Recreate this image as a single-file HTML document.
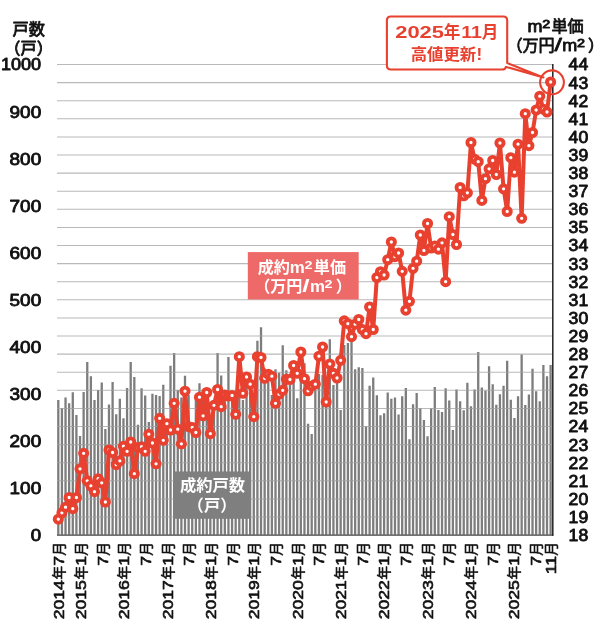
<!DOCTYPE html>
<html lang="ja"><head><meta charset="utf-8"><title>成約m2単価・成約戸数</title>
<style>html,body{margin:0;padding:0;background:#fff}body{width:600px;height:626px;overflow:hidden}svg{display:block;will-change:transform}</style>
</head><body>
<svg width="600" height="626" viewBox="0 0 600 626">
<rect width="600" height="626" fill="#fff"/>
<path d="M57.0 64.50H552.8M57.0 82.60H552.8M57.0 100.70H552.8M57.0 118.80H552.8M57.0 136.90H552.8M57.0 155.00H552.8M57.0 173.10H552.8M57.0 191.20H552.8M57.0 209.30H552.8M57.0 227.40H552.8M57.0 245.50H552.8M57.0 263.60H552.8M57.0 281.70H552.8M57.0 299.80H552.8M57.0 317.90H552.8M57.0 336.00H552.8M57.0 354.10H552.8M57.0 372.20H552.8M57.0 390.30H552.8M57.0 408.40H552.8M57.0 426.50H552.8M57.0 444.60H552.8M57.0 462.70H552.8M57.0 480.80H552.8M57.0 498.90H552.8M57.0 517.00H552.8M57.0 535.10H552.8" stroke="#b9b9b9" stroke-width="1.05" fill="none"/>
<clipPath id="bc"><path d="M57.15 535.1V400.0h2.3V535.1zM60.77 535.1V408.3h2.3V535.1zM64.39 535.1V397.5h2.3V535.1zM68.01 535.1V403.3h2.3V535.1zM71.63 535.1V392.2h2.3V535.1zM75.25 535.1V415.0h2.3V535.1zM78.87 535.1V436.0h2.3V535.1zM82.49 535.1V392.0h2.3V535.1zM86.11 535.1V362.0h2.3V535.1zM89.73 535.1V376.3h2.3V535.1zM93.35 535.1V400.0h2.3V535.1zM96.97 535.1V390.0h2.3V535.1zM100.59 535.1V382.5h2.3V535.1zM104.21 535.1V429.0h2.3V535.1zM107.83 535.1V404.5h2.3V535.1zM111.45 535.1V382.0h2.3V535.1zM115.07 535.1V414.2h2.3V535.1zM118.69 535.1V398.8h2.3V535.1zM122.31 535.1V418.3h2.3V535.1zM125.93 535.1V388.0h2.3V535.1zM129.55 535.1V362.0h2.3V535.1zM133.17 535.1V377.0h2.3V535.1zM136.79 535.1V424.7h2.3V535.1zM140.41 535.1V388.3h2.3V535.1zM144.03 535.1V395.5h2.3V535.1zM147.65 535.1V422.0h2.3V535.1zM151.27 535.1V393.8h2.3V535.1zM154.89 535.1V395.0h2.3V535.1zM158.51 535.1V396.0h2.3V535.1zM162.13 535.1V384.7h2.3V535.1zM165.75 535.1V420.0h2.3V535.1zM169.37 535.1V365.8h2.3V535.1zM172.99 535.1V353.0h2.3V535.1zM176.61 535.1V390.0h2.3V535.1zM180.23 535.1V397.5h2.3V535.1zM183.85 535.1V375.8h2.3V535.1zM187.47 535.1V395.0h2.3V535.1zM191.09 535.1V428.0h2.3V535.1zM194.71 535.1V398.0h2.3V535.1zM198.33 535.1V383.3h2.3V535.1zM201.95 535.1V400.0h2.3V535.1zM205.57 535.1V395.0h2.3V535.1zM209.19 535.1V420.0h2.3V535.1zM212.81 535.1V400.0h2.3V535.1zM216.43 535.1V353.0h2.3V535.1zM220.05 535.1V375.5h2.3V535.1zM223.67 535.1V400.0h2.3V535.1zM227.29 535.1V357.0h2.3V535.1zM230.91 535.1V400.0h2.3V535.1zM234.53 535.1V400.0h2.3V535.1zM238.15 535.1V395.0h2.3V535.1zM241.77 535.1V400.0h2.3V535.1zM245.39 535.1V385.0h2.3V535.1zM249.01 535.1V390.0h2.3V535.1zM252.63 535.1V420.0h2.3V535.1zM256.25 535.1V340.8h2.3V535.1zM259.87 535.1V327.2h2.3V535.1zM263.49 535.1V368.3h2.3V535.1zM267.11 535.1V370.8h2.3V535.1zM270.73 535.1V395.0h2.3V535.1zM274.35 535.1V369.3h2.3V535.1zM277.97 535.1V372.7h2.3V535.1zM281.59 535.1V345.3h2.3V535.1zM285.21 535.1V370.2h2.3V535.1zM288.83 535.1V385.0h2.3V535.1zM292.45 535.1V380.0h2.3V535.1zM296.07 535.1V398.3h2.3V535.1zM299.69 535.1V375.0h2.3V535.1zM303.31 535.1V363.3h2.3V535.1zM306.93 535.1V423.8h2.3V535.1zM310.55 535.1V434.0h2.3V535.1zM314.17 535.1V390.0h2.3V535.1zM317.79 535.1V374.0h2.3V535.1zM321.41 535.1V375.0h2.3V535.1zM325.03 535.1V405.0h2.3V535.1zM328.65 535.1V339.2h2.3V535.1zM332.27 535.1V385.0h2.3V535.1zM335.89 535.1V380.0h2.3V535.1zM339.51 535.1V410.0h2.3V535.1zM343.13 535.1V345.0h2.3V535.1zM346.75 535.1V343.0h2.3V535.1zM350.37 535.1V340.8h2.3V535.1zM353.99 535.1V369.2h2.3V535.1zM357.61 535.1V367.2h2.3V535.1zM361.23 535.1V368.0h2.3V535.1zM364.85 535.1V426.3h2.3V535.1zM368.47 535.1V385.8h2.3V535.1zM372.09 535.1V377.5h2.3V535.1zM375.71 535.1V395.3h2.3V535.1zM379.33 535.1V415.3h2.3V535.1zM382.95 535.1V413.3h2.3V535.1zM386.57 535.1V392.5h2.3V535.1zM390.19 535.1V398.7h2.3V535.1zM393.81 535.1V397.5h2.3V535.1zM397.43 535.1V414.5h2.3V535.1zM401.05 535.1V396.2h2.3V535.1zM404.67 535.1V388.0h2.3V535.1zM408.29 535.1V439.2h2.3V535.1zM411.91 535.1V404.2h2.3V535.1zM415.53 535.1V393.0h2.3V535.1zM419.15 535.1V408.3h2.3V535.1zM422.77 535.1V420.0h2.3V535.1zM426.39 535.1V436.3h2.3V535.1zM430.01 535.1V408.3h2.3V535.1zM433.63 535.1V387.0h2.3V535.1zM437.25 535.1V410.0h2.3V535.1zM440.87 535.1V412.0h2.3V535.1zM444.49 535.1V388.3h2.3V535.1zM448.11 535.1V400.5h2.3V535.1zM451.73 535.1V430.0h2.3V535.1zM455.35 535.1V389.5h2.3V535.1zM458.97 535.1V401.3h2.3V535.1zM462.59 535.1V410.3h2.3V535.1zM466.21 535.1V382.8h2.3V535.1zM469.83 535.1V406.3h2.3V535.1zM473.45 535.1V389.5h2.3V535.1zM477.07 535.1V352.0h2.3V535.1zM480.69 535.1V387.5h2.3V535.1zM484.31 535.1V390.8h2.3V535.1zM487.93 535.1V366.3h2.3V535.1zM491.55 535.1V384.2h2.3V535.1zM495.17 535.1V404.7h2.3V535.1zM498.79 535.1V394.2h2.3V535.1zM502.41 535.1V385.8h2.3V535.1zM506.03 535.1V360.8h2.3V535.1zM509.65 535.1V399.7h2.3V535.1zM513.27 535.1V418.0h2.3V535.1zM516.89 535.1V396.2h2.3V535.1zM520.51 535.1V354.5h2.3V535.1zM524.13 535.1V405.0h2.3V535.1zM527.75 535.1V394.5h2.3V535.1zM531.37 535.1V368.7h2.3V535.1zM534.99 535.1V391.3h2.3V535.1zM538.61 535.1V401.3h2.3V535.1zM542.23 535.1V365.0h2.3V535.1zM545.85 535.1V376.2h2.3V535.1zM549.47 535.1V365.0h2.3V535.1z"/></clipPath>
<path d="M57.15 535.1V400.0h2.3V535.1zM60.77 535.1V408.3h2.3V535.1zM64.39 535.1V397.5h2.3V535.1zM68.01 535.1V403.3h2.3V535.1zM71.63 535.1V392.2h2.3V535.1zM75.25 535.1V415.0h2.3V535.1zM78.87 535.1V436.0h2.3V535.1zM82.49 535.1V392.0h2.3V535.1zM86.11 535.1V362.0h2.3V535.1zM89.73 535.1V376.3h2.3V535.1zM93.35 535.1V400.0h2.3V535.1zM96.97 535.1V390.0h2.3V535.1zM100.59 535.1V382.5h2.3V535.1zM104.21 535.1V429.0h2.3V535.1zM107.83 535.1V404.5h2.3V535.1zM111.45 535.1V382.0h2.3V535.1zM115.07 535.1V414.2h2.3V535.1zM118.69 535.1V398.8h2.3V535.1zM122.31 535.1V418.3h2.3V535.1zM125.93 535.1V388.0h2.3V535.1zM129.55 535.1V362.0h2.3V535.1zM133.17 535.1V377.0h2.3V535.1zM136.79 535.1V424.7h2.3V535.1zM140.41 535.1V388.3h2.3V535.1zM144.03 535.1V395.5h2.3V535.1zM147.65 535.1V422.0h2.3V535.1zM151.27 535.1V393.8h2.3V535.1zM154.89 535.1V395.0h2.3V535.1zM158.51 535.1V396.0h2.3V535.1zM162.13 535.1V384.7h2.3V535.1zM165.75 535.1V420.0h2.3V535.1zM169.37 535.1V365.8h2.3V535.1zM172.99 535.1V353.0h2.3V535.1zM176.61 535.1V390.0h2.3V535.1zM180.23 535.1V397.5h2.3V535.1zM183.85 535.1V375.8h2.3V535.1zM187.47 535.1V395.0h2.3V535.1zM191.09 535.1V428.0h2.3V535.1zM194.71 535.1V398.0h2.3V535.1zM198.33 535.1V383.3h2.3V535.1zM201.95 535.1V400.0h2.3V535.1zM205.57 535.1V395.0h2.3V535.1zM209.19 535.1V420.0h2.3V535.1zM212.81 535.1V400.0h2.3V535.1zM216.43 535.1V353.0h2.3V535.1zM220.05 535.1V375.5h2.3V535.1zM223.67 535.1V400.0h2.3V535.1zM227.29 535.1V357.0h2.3V535.1zM230.91 535.1V400.0h2.3V535.1zM234.53 535.1V400.0h2.3V535.1zM238.15 535.1V395.0h2.3V535.1zM241.77 535.1V400.0h2.3V535.1zM245.39 535.1V385.0h2.3V535.1zM249.01 535.1V390.0h2.3V535.1zM252.63 535.1V420.0h2.3V535.1zM256.25 535.1V340.8h2.3V535.1zM259.87 535.1V327.2h2.3V535.1zM263.49 535.1V368.3h2.3V535.1zM267.11 535.1V370.8h2.3V535.1zM270.73 535.1V395.0h2.3V535.1zM274.35 535.1V369.3h2.3V535.1zM277.97 535.1V372.7h2.3V535.1zM281.59 535.1V345.3h2.3V535.1zM285.21 535.1V370.2h2.3V535.1zM288.83 535.1V385.0h2.3V535.1zM292.45 535.1V380.0h2.3V535.1zM296.07 535.1V398.3h2.3V535.1zM299.69 535.1V375.0h2.3V535.1zM303.31 535.1V363.3h2.3V535.1zM306.93 535.1V423.8h2.3V535.1zM310.55 535.1V434.0h2.3V535.1zM314.17 535.1V390.0h2.3V535.1zM317.79 535.1V374.0h2.3V535.1zM321.41 535.1V375.0h2.3V535.1zM325.03 535.1V405.0h2.3V535.1zM328.65 535.1V339.2h2.3V535.1zM332.27 535.1V385.0h2.3V535.1zM335.89 535.1V380.0h2.3V535.1zM339.51 535.1V410.0h2.3V535.1zM343.13 535.1V345.0h2.3V535.1zM346.75 535.1V343.0h2.3V535.1zM350.37 535.1V340.8h2.3V535.1zM353.99 535.1V369.2h2.3V535.1zM357.61 535.1V367.2h2.3V535.1zM361.23 535.1V368.0h2.3V535.1zM364.85 535.1V426.3h2.3V535.1zM368.47 535.1V385.8h2.3V535.1zM372.09 535.1V377.5h2.3V535.1zM375.71 535.1V395.3h2.3V535.1zM379.33 535.1V415.3h2.3V535.1zM382.95 535.1V413.3h2.3V535.1zM386.57 535.1V392.5h2.3V535.1zM390.19 535.1V398.7h2.3V535.1zM393.81 535.1V397.5h2.3V535.1zM397.43 535.1V414.5h2.3V535.1zM401.05 535.1V396.2h2.3V535.1zM404.67 535.1V388.0h2.3V535.1zM408.29 535.1V439.2h2.3V535.1zM411.91 535.1V404.2h2.3V535.1zM415.53 535.1V393.0h2.3V535.1zM419.15 535.1V408.3h2.3V535.1zM422.77 535.1V420.0h2.3V535.1zM426.39 535.1V436.3h2.3V535.1zM430.01 535.1V408.3h2.3V535.1zM433.63 535.1V387.0h2.3V535.1zM437.25 535.1V410.0h2.3V535.1zM440.87 535.1V412.0h2.3V535.1zM444.49 535.1V388.3h2.3V535.1zM448.11 535.1V400.5h2.3V535.1zM451.73 535.1V430.0h2.3V535.1zM455.35 535.1V389.5h2.3V535.1zM458.97 535.1V401.3h2.3V535.1zM462.59 535.1V410.3h2.3V535.1zM466.21 535.1V382.8h2.3V535.1zM469.83 535.1V406.3h2.3V535.1zM473.45 535.1V389.5h2.3V535.1zM477.07 535.1V352.0h2.3V535.1zM480.69 535.1V387.5h2.3V535.1zM484.31 535.1V390.8h2.3V535.1zM487.93 535.1V366.3h2.3V535.1zM491.55 535.1V384.2h2.3V535.1zM495.17 535.1V404.7h2.3V535.1zM498.79 535.1V394.2h2.3V535.1zM502.41 535.1V385.8h2.3V535.1zM506.03 535.1V360.8h2.3V535.1zM509.65 535.1V399.7h2.3V535.1zM513.27 535.1V418.0h2.3V535.1zM516.89 535.1V396.2h2.3V535.1zM520.51 535.1V354.5h2.3V535.1zM524.13 535.1V405.0h2.3V535.1zM527.75 535.1V394.5h2.3V535.1zM531.37 535.1V368.7h2.3V535.1zM534.99 535.1V391.3h2.3V535.1zM538.61 535.1V401.3h2.3V535.1zM542.23 535.1V365.0h2.3V535.1zM545.85 535.1V376.2h2.3V535.1zM549.47 535.1V365.0h2.3V535.1z" fill="#7d7d7d"/>
<path d="M57.0 64.50H552.8M57.0 82.60H552.8M57.0 100.70H552.8M57.0 118.80H552.8M57.0 136.90H552.8M57.0 155.00H552.8M57.0 173.10H552.8M57.0 191.20H552.8M57.0 209.30H552.8M57.0 227.40H552.8M57.0 245.50H552.8M57.0 263.60H552.8M57.0 281.70H552.8M57.0 299.80H552.8M57.0 317.90H552.8M57.0 336.00H552.8M57.0 354.10H552.8M57.0 372.20H552.8M57.0 390.30H552.8M57.0 408.40H552.8M57.0 426.50H552.8M57.0 444.60H552.8M57.0 462.70H552.8M57.0 480.80H552.8M57.0 498.90H552.8M57.0 517.00H552.8M57.0 535.10H552.8" stroke="#fff" stroke-opacity="0.22" stroke-width="1.05" fill="none" clip-path="url(#bc)"/>
<path d="M57.0 535.1H553.4" stroke="#555" stroke-width="1.2"/>
<path d="M552.8 64.0V535.7" stroke="#222" stroke-width="1.5"/>
<rect x="173.7" y="471.5" width="77" height="47.3" fill="#7f7f7f"/>
<g font-family="'Liberation Sans','Noto Sans CJK JP',sans-serif" font-weight="bold" fill="#fff">
<text x="212.5" y="491" font-size="16.3" text-anchor="middle">成約戸数</text>
<text y="510.6" font-size="16.3"><tspan x="187.6">（</tspan><tspan x="203.9">戸</tspan><tspan x="220.2">）</tspan></text>
</g>
<rect x="247.8" y="252.1" width="110.9" height="47.4" fill="#ee6a68"/>
<g font-family="'Liberation Sans','Noto Sans CJK JP',sans-serif" font-weight="bold" fill="#fff">
<text y="273.0"><tspan x="257.7" font-size="16.1">成約</tspan><tspan x="289.8" font-size="16.4" textLength="15.0" lengthAdjust="spacingAndGlyphs">m</tspan><tspan x="304.6" dy="-4.1" font-size="11" textLength="8.0" lengthAdjust="spacingAndGlyphs">2</tspan><tspan x="313.8" dy="4.1" font-size="16.1">単価</tspan></text>
<text y="292.3"><tspan x="254.3" font-size="16.1">（</tspan><tspan x="270.2" font-size="16.1">万円</tspan><tspan x="302.3" font-size="19.0" textLength="7.4" lengthAdjust="spacingAndGlyphs">/</tspan><tspan x="310.0" font-size="16.4" textLength="15.0" lengthAdjust="spacingAndGlyphs">m</tspan><tspan x="324.6" dy="-4.1" font-size="11" textLength="8.0" lengthAdjust="spacingAndGlyphs">2</tspan><tspan x="335.7" dy="4.1" font-size="16.1">）</tspan></text>
</g>
<polyline points="58.30,519.2 61.92,512.8 65.54,507.2 69.16,497.5 72.78,508.7 76.40,497.5 80.02,468.8 83.64,453.3 87.26,480.8 90.88,485.8 94.50,491.7 98.12,478.7 101.74,482.8 105.36,502.0 108.98,450.0 112.60,452.5 116.22,464.7 119.84,460.8 123.46,446.2 127.08,451.3 130.70,442.0 134.32,473.7 137.94,447.5 141.56,446.7 145.18,451.3 148.80,434.2 152.42,443.0 156.04,463.8 159.66,418.3 163.28,440.3 166.90,423.7 170.52,430.0 174.14,403.3 177.76,429.2 181.38,443.8 185.00,391.2 188.62,426.7 192.24,427.5 195.86,432.5 199.48,397.2 203.10,415.8 206.72,392.5 210.34,433.7 213.96,405.3 217.58,389.5 221.20,406.7 224.82,395.0 228.44,396.0 232.06,395.5 235.68,414.3 239.30,356.7 242.92,393.3 246.54,377.0 250.16,384.2 253.78,416.7 257.40,356.7 261.02,357.5 264.64,378.3 268.26,374.2 271.88,376.2 275.50,403.3 279.12,394.2 282.74,390.3 286.36,379.2 289.98,379.5 293.60,365.5 297.22,373.3 300.84,352.0 304.46,378.7 308.08,390.8 311.70,386.0 315.32,384.2 318.94,356.2 322.56,347.0 326.18,402.0 329.80,364.0 333.42,373.3 337.04,378.0 340.66,360.3 344.28,320.8 347.90,323.7 351.52,336.7 355.14,324.2 358.76,319.5 362.38,329.5 366.00,333.7 369.62,307.0 373.24,329.5 376.86,277.5 380.48,271.7 384.10,275.0 387.72,259.7 391.34,242.0 394.96,256.7 398.58,253.0 402.20,271.3 405.82,310.2 409.44,301.3 413.06,268.3 416.68,261.2 420.30,235.0 423.92,250.5 427.54,223.5 431.16,248.0 434.78,246.0 438.40,249.2 442.02,242.8 445.64,281.7 449.26,216.7 452.88,234.5 456.50,244.5 460.12,187.5 463.74,195.8 467.36,192.8 470.98,142.5 474.60,159.2 478.22,161.7 481.84,200.4 485.46,178.7 489.08,168.8 492.70,160.5 496.32,174.5 499.94,143.0 503.56,188.8 507.18,211.5 510.80,157.7 514.42,172.2 518.04,144.2 521.66,218.3 525.28,113.7 528.90,145.7 532.52,132.5 536.14,110.0 539.76,96.2 543.38,109.2 547.00,112.0 550.62,82.0" fill="none" stroke="#e8412f" stroke-width="4.0" stroke-linejoin="round" stroke-linecap="round"/>
<g fill="#fff" stroke="#e8412f" stroke-width="3.9"><circle cx="58.30" cy="519.2" r="3.6"/><circle cx="61.92" cy="512.8" r="3.6"/><circle cx="65.54" cy="507.2" r="3.6"/><circle cx="69.16" cy="497.5" r="3.6"/><circle cx="72.78" cy="508.7" r="3.6"/><circle cx="76.40" cy="497.5" r="3.6"/><circle cx="80.02" cy="468.8" r="3.6"/><circle cx="83.64" cy="453.3" r="3.6"/><circle cx="87.26" cy="480.8" r="3.6"/><circle cx="90.88" cy="485.8" r="3.6"/><circle cx="94.50" cy="491.7" r="3.6"/><circle cx="98.12" cy="478.7" r="3.6"/><circle cx="101.74" cy="482.8" r="3.6"/><circle cx="105.36" cy="502.0" r="3.6"/><circle cx="108.98" cy="450.0" r="3.6"/><circle cx="112.60" cy="452.5" r="3.6"/><circle cx="116.22" cy="464.7" r="3.6"/><circle cx="119.84" cy="460.8" r="3.6"/><circle cx="123.46" cy="446.2" r="3.6"/><circle cx="127.08" cy="451.3" r="3.6"/><circle cx="130.70" cy="442.0" r="3.6"/><circle cx="134.32" cy="473.7" r="3.6"/><circle cx="137.94" cy="447.5" r="3.6"/><circle cx="141.56" cy="446.7" r="3.6"/><circle cx="145.18" cy="451.3" r="3.6"/><circle cx="148.80" cy="434.2" r="3.6"/><circle cx="152.42" cy="443.0" r="3.6"/><circle cx="156.04" cy="463.8" r="3.6"/><circle cx="159.66" cy="418.3" r="3.6"/><circle cx="163.28" cy="440.3" r="3.6"/><circle cx="166.90" cy="423.7" r="3.6"/><circle cx="170.52" cy="430.0" r="3.6"/><circle cx="174.14" cy="403.3" r="3.6"/><circle cx="177.76" cy="429.2" r="3.6"/><circle cx="181.38" cy="443.8" r="3.6"/><circle cx="185.00" cy="391.2" r="3.6"/><circle cx="188.62" cy="426.7" r="3.6"/><circle cx="192.24" cy="427.5" r="3.6"/><circle cx="195.86" cy="432.5" r="3.6"/><circle cx="199.48" cy="397.2" r="3.6"/><circle cx="203.10" cy="415.8" r="3.6"/><circle cx="206.72" cy="392.5" r="3.6"/><circle cx="210.34" cy="433.7" r="3.6"/><circle cx="213.96" cy="405.3" r="3.6"/><circle cx="217.58" cy="389.5" r="3.6"/><circle cx="221.20" cy="406.7" r="3.6"/><circle cx="224.82" cy="395.0" r="3.6"/><circle cx="228.44" cy="396.0" r="3.6"/><circle cx="232.06" cy="395.5" r="3.6"/><circle cx="235.68" cy="414.3" r="3.6"/><circle cx="239.30" cy="356.7" r="3.6"/><circle cx="242.92" cy="393.3" r="3.6"/><circle cx="246.54" cy="377.0" r="3.6"/><circle cx="250.16" cy="384.2" r="3.6"/><circle cx="253.78" cy="416.7" r="3.6"/><circle cx="257.40" cy="356.7" r="3.6"/><circle cx="261.02" cy="357.5" r="3.6"/><circle cx="264.64" cy="378.3" r="3.6"/><circle cx="268.26" cy="374.2" r="3.6"/><circle cx="271.88" cy="376.2" r="3.6"/><circle cx="275.50" cy="403.3" r="3.6"/><circle cx="279.12" cy="394.2" r="3.6"/><circle cx="282.74" cy="390.3" r="3.6"/><circle cx="286.36" cy="379.2" r="3.6"/><circle cx="289.98" cy="379.5" r="3.6"/><circle cx="293.60" cy="365.5" r="3.6"/><circle cx="297.22" cy="373.3" r="3.6"/><circle cx="300.84" cy="352.0" r="3.6"/><circle cx="304.46" cy="378.7" r="3.6"/><circle cx="308.08" cy="390.8" r="3.6"/><circle cx="311.70" cy="386.0" r="3.6"/><circle cx="315.32" cy="384.2" r="3.6"/><circle cx="318.94" cy="356.2" r="3.6"/><circle cx="322.56" cy="347.0" r="3.6"/><circle cx="326.18" cy="402.0" r="3.6"/><circle cx="329.80" cy="364.0" r="3.6"/><circle cx="333.42" cy="373.3" r="3.6"/><circle cx="337.04" cy="378.0" r="3.6"/><circle cx="340.66" cy="360.3" r="3.6"/><circle cx="344.28" cy="320.8" r="3.6"/><circle cx="347.90" cy="323.7" r="3.6"/><circle cx="351.52" cy="336.7" r="3.6"/><circle cx="355.14" cy="324.2" r="3.6"/><circle cx="358.76" cy="319.5" r="3.6"/><circle cx="362.38" cy="329.5" r="3.6"/><circle cx="366.00" cy="333.7" r="3.6"/><circle cx="369.62" cy="307.0" r="3.6"/><circle cx="373.24" cy="329.5" r="3.6"/><circle cx="376.86" cy="277.5" r="3.6"/><circle cx="380.48" cy="271.7" r="3.6"/><circle cx="384.10" cy="275.0" r="3.6"/><circle cx="387.72" cy="259.7" r="3.6"/><circle cx="391.34" cy="242.0" r="3.6"/><circle cx="394.96" cy="256.7" r="3.6"/><circle cx="398.58" cy="253.0" r="3.6"/><circle cx="402.20" cy="271.3" r="3.6"/><circle cx="405.82" cy="310.2" r="3.6"/><circle cx="409.44" cy="301.3" r="3.6"/><circle cx="413.06" cy="268.3" r="3.6"/><circle cx="416.68" cy="261.2" r="3.6"/><circle cx="420.30" cy="235.0" r="3.6"/><circle cx="423.92" cy="250.5" r="3.6"/><circle cx="427.54" cy="223.5" r="3.6"/><circle cx="431.16" cy="248.0" r="3.6"/><circle cx="434.78" cy="246.0" r="3.6"/><circle cx="438.40" cy="249.2" r="3.6"/><circle cx="442.02" cy="242.8" r="3.6"/><circle cx="445.64" cy="281.7" r="3.6"/><circle cx="449.26" cy="216.7" r="3.6"/><circle cx="452.88" cy="234.5" r="3.6"/><circle cx="456.50" cy="244.5" r="3.6"/><circle cx="460.12" cy="187.5" r="3.6"/><circle cx="463.74" cy="195.8" r="3.6"/><circle cx="467.36" cy="192.8" r="3.6"/><circle cx="470.98" cy="142.5" r="3.6"/><circle cx="474.60" cy="159.2" r="3.6"/><circle cx="478.22" cy="161.7" r="3.6"/><circle cx="481.84" cy="200.4" r="3.6"/><circle cx="485.46" cy="178.7" r="3.6"/><circle cx="489.08" cy="168.8" r="3.6"/><circle cx="492.70" cy="160.5" r="3.6"/><circle cx="496.32" cy="174.5" r="3.6"/><circle cx="499.94" cy="143.0" r="3.6"/><circle cx="503.56" cy="188.8" r="3.6"/><circle cx="507.18" cy="211.5" r="3.6"/><circle cx="510.80" cy="157.7" r="3.6"/><circle cx="514.42" cy="172.2" r="3.6"/><circle cx="518.04" cy="144.2" r="3.6"/><circle cx="521.66" cy="218.3" r="3.6"/><circle cx="525.28" cy="113.7" r="3.6"/><circle cx="528.90" cy="145.7" r="3.6"/><circle cx="532.52" cy="132.5" r="3.6"/><circle cx="536.14" cy="110.0" r="3.6"/><circle cx="539.76" cy="96.2" r="3.6"/><circle cx="543.38" cy="109.2" r="3.6"/><circle cx="547.00" cy="112.0" r="3.6"/><circle cx="550.62" cy="82.0" r="3.6"/></g>
<circle cx="552" cy="82.3" r="11.9" fill="none" stroke="#e8412f" stroke-width="2.1"/>
<path d="M390.9 16.5H503.2Q507.2 16.5 507.2 20.5V63L543.5 77.4L506 66.9Q505.2 69.5 502.4 69.5H390.9Q386.9 69.5 386.9 65.5V20.5Q386.9 16.5 390.9 16.5Z" fill="#fff" stroke="#e8412f" stroke-width="2.1" stroke-linejoin="round"/>
<g font-family="'Liberation Sans','Noto Sans CJK JP',sans-serif" font-weight="bold" fill="#e8412f">
<text y="38.1"><tspan x="395.2" font-size="17" textLength="48.8" lengthAdjust="spacingAndGlyphs">2025</tspan><tspan x="443.7" font-size="16.6">年</tspan><tspan x="461.2" font-size="17" textLength="20.6" lengthAdjust="spacingAndGlyphs">11</tspan><tspan x="481.8" font-size="16.6">月</tspan></text>
<text y="60.4" font-size="16.4"><tspan x="410.7">高値更新</tspan><tspan x="476.6" font-size="17">!</tspan></text>
</g>
<g font-family="'Liberation Sans','Noto Sans CJK JP',sans-serif" font-weight="normal" fill="#111" stroke="#111" stroke-width="0.8" stroke-linejoin="round">
<text x="28.7" y="35.3" font-size="16.2" text-anchor="middle">戸数</text>
<text y="54.3" font-size="16.2"><tspan x="4.3">（</tspan><tspan x="20.5">戸</tspan><tspan x="36.7">）</tspan></text>
<text y="32.3"><tspan x="527.4" font-size="16.4" textLength="15.0" lengthAdjust="spacingAndGlyphs">m</tspan><tspan x="542.2" dy="-4.1" font-size="11" textLength="8.0" lengthAdjust="spacingAndGlyphs">2</tspan><tspan x="551.4" dy="4.1" font-size="16.1">単価</tspan></text>
<text y="50.6"><tspan x="506.6" font-size="16.1">（</tspan><tspan x="522.5" font-size="16.1">万円</tspan><tspan x="554.6" font-size="19.0" textLength="7.4" lengthAdjust="spacingAndGlyphs">/</tspan><tspan x="562.3" font-size="16.4" textLength="15.0" lengthAdjust="spacingAndGlyphs">m</tspan><tspan x="576.9" dy="-4.1" font-size="11" textLength="8.0" lengthAdjust="spacingAndGlyphs">2</tspan><tspan x="588.0" dy="4.1" font-size="16.1">）</tspan></text>
<text x="41.2" y="70.4" font-size="15.6" text-anchor="end" textLength="40.2" lengthAdjust="spacingAndGlyphs">1000</text>
<text x="41.2" y="117.5" font-size="15.6" text-anchor="end" textLength="31.6" lengthAdjust="spacingAndGlyphs">900</text>
<text x="41.2" y="164.5" font-size="15.6" text-anchor="end" textLength="31.6" lengthAdjust="spacingAndGlyphs">800</text>
<text x="41.2" y="211.6" font-size="15.6" text-anchor="end" textLength="31.6" lengthAdjust="spacingAndGlyphs">700</text>
<text x="41.2" y="258.6" font-size="15.6" text-anchor="end" textLength="31.6" lengthAdjust="spacingAndGlyphs">600</text>
<text x="41.2" y="305.7" font-size="15.6" text-anchor="end" textLength="31.6" lengthAdjust="spacingAndGlyphs">500</text>
<text x="41.2" y="352.8" font-size="15.6" text-anchor="end" textLength="31.6" lengthAdjust="spacingAndGlyphs">400</text>
<text x="41.2" y="399.8" font-size="15.6" text-anchor="end" textLength="31.6" lengthAdjust="spacingAndGlyphs">300</text>
<text x="41.2" y="446.9" font-size="15.6" text-anchor="end" textLength="31.6" lengthAdjust="spacingAndGlyphs">200</text>
<text x="41.2" y="493.9" font-size="15.6" text-anchor="end" textLength="31.6" lengthAdjust="spacingAndGlyphs">100</text>
<text x="41.2" y="541.0" font-size="15.6" text-anchor="end" textLength="10.4" lengthAdjust="spacingAndGlyphs">0</text>
<text x="568.6" y="70.4" font-size="15.6" textLength="19.6" lengthAdjust="spacingAndGlyphs">44</text>
<text x="568.6" y="88.5" font-size="15.6" textLength="19.6" lengthAdjust="spacingAndGlyphs">43</text>
<text x="568.6" y="106.6" font-size="15.6" textLength="19.6" lengthAdjust="spacingAndGlyphs">42</text>
<text x="568.6" y="124.7" font-size="15.6" textLength="19.6" lengthAdjust="spacingAndGlyphs">41</text>
<text x="568.6" y="142.8" font-size="15.6" textLength="19.6" lengthAdjust="spacingAndGlyphs">40</text>
<text x="568.6" y="160.9" font-size="15.6" textLength="19.6" lengthAdjust="spacingAndGlyphs">39</text>
<text x="568.6" y="179.0" font-size="15.6" textLength="19.6" lengthAdjust="spacingAndGlyphs">38</text>
<text x="568.6" y="197.1" font-size="15.6" textLength="19.6" lengthAdjust="spacingAndGlyphs">37</text>
<text x="568.6" y="215.2" font-size="15.6" textLength="19.6" lengthAdjust="spacingAndGlyphs">36</text>
<text x="568.6" y="233.3" font-size="15.6" textLength="19.6" lengthAdjust="spacingAndGlyphs">35</text>
<text x="568.6" y="251.4" font-size="15.6" textLength="19.6" lengthAdjust="spacingAndGlyphs">34</text>
<text x="568.6" y="269.5" font-size="15.6" textLength="19.6" lengthAdjust="spacingAndGlyphs">33</text>
<text x="568.6" y="287.6" font-size="15.6" textLength="19.6" lengthAdjust="spacingAndGlyphs">32</text>
<text x="568.6" y="305.7" font-size="15.6" textLength="19.6" lengthAdjust="spacingAndGlyphs">31</text>
<text x="568.6" y="323.8" font-size="15.6" textLength="19.6" lengthAdjust="spacingAndGlyphs">30</text>
<text x="568.6" y="341.9" font-size="15.6" textLength="19.6" lengthAdjust="spacingAndGlyphs">29</text>
<text x="568.6" y="360.0" font-size="15.6" textLength="19.6" lengthAdjust="spacingAndGlyphs">28</text>
<text x="568.6" y="378.1" font-size="15.6" textLength="19.6" lengthAdjust="spacingAndGlyphs">27</text>
<text x="568.6" y="396.2" font-size="15.6" textLength="19.6" lengthAdjust="spacingAndGlyphs">26</text>
<text x="568.6" y="414.3" font-size="15.6" textLength="19.6" lengthAdjust="spacingAndGlyphs">25</text>
<text x="568.6" y="432.4" font-size="15.6" textLength="19.6" lengthAdjust="spacingAndGlyphs">24</text>
<text x="568.6" y="450.5" font-size="15.6" textLength="19.6" lengthAdjust="spacingAndGlyphs">23</text>
<text x="568.6" y="468.6" font-size="15.6" textLength="19.6" lengthAdjust="spacingAndGlyphs">22</text>
<text x="568.6" y="486.7" font-size="15.6" textLength="19.6" lengthAdjust="spacingAndGlyphs">21</text>
<text x="568.6" y="504.8" font-size="15.6" textLength="19.6" lengthAdjust="spacingAndGlyphs">20</text>
<text x="568.6" y="522.9" font-size="15.6" textLength="19.6" lengthAdjust="spacingAndGlyphs">19</text>
<text x="568.6" y="541.0" font-size="15.6" textLength="19.6" lengthAdjust="spacingAndGlyphs">18</text>
</g>
<g font-family="'Liberation Sans','Noto Sans CJK JP',sans-serif" font-weight="normal" fill="#111" stroke="#111" stroke-width="0.62" stroke-linejoin="round">
<text transform="translate(64.30 542.2) rotate(-90)"><tspan x="-77.1" font-size="15.2" textLength="39.2" lengthAdjust="spacingAndGlyphs">2014</tspan><tspan x="-37.3" font-size="13.5">年</tspan><tspan x="-23.5" font-size="15.2" textLength="9.8" lengthAdjust="spacingAndGlyphs">7</tspan><tspan x="-13.5" font-size="13.5">月</tspan></text>
<text transform="translate(85.97 542.2) rotate(-90)"><tspan x="-77.1" font-size="15.2" textLength="39.2" lengthAdjust="spacingAndGlyphs">2015</tspan><tspan x="-37.3" font-size="13.5">年</tspan><tspan x="-23.5" font-size="15.2" textLength="9.8" lengthAdjust="spacingAndGlyphs">1</tspan><tspan x="-13.5" font-size="13.5">月</tspan></text>
<text transform="translate(107.64 542.2) rotate(-90)"><tspan x="-23.5" font-size="15.2" textLength="9.8" lengthAdjust="spacingAndGlyphs">7</tspan><tspan x="-13.5" font-size="13.5">月</tspan></text>
<text transform="translate(129.32 542.2) rotate(-90)"><tspan x="-77.1" font-size="15.2" textLength="39.2" lengthAdjust="spacingAndGlyphs">2016</tspan><tspan x="-37.3" font-size="13.5">年</tspan><tspan x="-23.5" font-size="15.2" textLength="9.8" lengthAdjust="spacingAndGlyphs">1</tspan><tspan x="-13.5" font-size="13.5">月</tspan></text>
<text transform="translate(150.99 542.2) rotate(-90)"><tspan x="-23.5" font-size="15.2" textLength="9.8" lengthAdjust="spacingAndGlyphs">7</tspan><tspan x="-13.5" font-size="13.5">月</tspan></text>
<text transform="translate(172.66 542.2) rotate(-90)"><tspan x="-77.1" font-size="15.2" textLength="39.2" lengthAdjust="spacingAndGlyphs">2017</tspan><tspan x="-37.3" font-size="13.5">年</tspan><tspan x="-23.5" font-size="15.2" textLength="9.8" lengthAdjust="spacingAndGlyphs">1</tspan><tspan x="-13.5" font-size="13.5">月</tspan></text>
<text transform="translate(194.33 542.2) rotate(-90)"><tspan x="-23.5" font-size="15.2" textLength="9.8" lengthAdjust="spacingAndGlyphs">7</tspan><tspan x="-13.5" font-size="13.5">月</tspan></text>
<text transform="translate(216.00 542.2) rotate(-90)"><tspan x="-77.1" font-size="15.2" textLength="39.2" lengthAdjust="spacingAndGlyphs">2018</tspan><tspan x="-37.3" font-size="13.5">年</tspan><tspan x="-23.5" font-size="15.2" textLength="9.8" lengthAdjust="spacingAndGlyphs">1</tspan><tspan x="-13.5" font-size="13.5">月</tspan></text>
<text transform="translate(237.68 542.2) rotate(-90)"><tspan x="-23.5" font-size="15.2" textLength="9.8" lengthAdjust="spacingAndGlyphs">7</tspan><tspan x="-13.5" font-size="13.5">月</tspan></text>
<text transform="translate(259.35 542.2) rotate(-90)"><tspan x="-77.1" font-size="15.2" textLength="39.2" lengthAdjust="spacingAndGlyphs">2019</tspan><tspan x="-37.3" font-size="13.5">年</tspan><tspan x="-23.5" font-size="15.2" textLength="9.8" lengthAdjust="spacingAndGlyphs">1</tspan><tspan x="-13.5" font-size="13.5">月</tspan></text>
<text transform="translate(281.02 542.2) rotate(-90)"><tspan x="-23.5" font-size="15.2" textLength="9.8" lengthAdjust="spacingAndGlyphs">7</tspan><tspan x="-13.5" font-size="13.5">月</tspan></text>
<text transform="translate(302.69 542.2) rotate(-90)"><tspan x="-77.1" font-size="15.2" textLength="39.2" lengthAdjust="spacingAndGlyphs">2020</tspan><tspan x="-37.3" font-size="13.5">年</tspan><tspan x="-23.5" font-size="15.2" textLength="9.8" lengthAdjust="spacingAndGlyphs">1</tspan><tspan x="-13.5" font-size="13.5">月</tspan></text>
<text transform="translate(324.36 542.2) rotate(-90)"><tspan x="-23.5" font-size="15.2" textLength="9.8" lengthAdjust="spacingAndGlyphs">7</tspan><tspan x="-13.5" font-size="13.5">月</tspan></text>
<text transform="translate(346.04 542.2) rotate(-90)"><tspan x="-77.1" font-size="15.2" textLength="39.2" lengthAdjust="spacingAndGlyphs">2021</tspan><tspan x="-37.3" font-size="13.5">年</tspan><tspan x="-23.5" font-size="15.2" textLength="9.8" lengthAdjust="spacingAndGlyphs">1</tspan><tspan x="-13.5" font-size="13.5">月</tspan></text>
<text transform="translate(367.71 542.2) rotate(-90)"><tspan x="-23.5" font-size="15.2" textLength="9.8" lengthAdjust="spacingAndGlyphs">7</tspan><tspan x="-13.5" font-size="13.5">月</tspan></text>
<text transform="translate(389.38 542.2) rotate(-90)"><tspan x="-77.1" font-size="15.2" textLength="39.2" lengthAdjust="spacingAndGlyphs">2022</tspan><tspan x="-37.3" font-size="13.5">年</tspan><tspan x="-23.5" font-size="15.2" textLength="9.8" lengthAdjust="spacingAndGlyphs">1</tspan><tspan x="-13.5" font-size="13.5">月</tspan></text>
<text transform="translate(411.05 542.2) rotate(-90)"><tspan x="-23.5" font-size="15.2" textLength="9.8" lengthAdjust="spacingAndGlyphs">7</tspan><tspan x="-13.5" font-size="13.5">月</tspan></text>
<text transform="translate(432.72 542.2) rotate(-90)"><tspan x="-77.1" font-size="15.2" textLength="39.2" lengthAdjust="spacingAndGlyphs">2023</tspan><tspan x="-37.3" font-size="13.5">年</tspan><tspan x="-23.5" font-size="15.2" textLength="9.8" lengthAdjust="spacingAndGlyphs">1</tspan><tspan x="-13.5" font-size="13.5">月</tspan></text>
<text transform="translate(454.40 542.2) rotate(-90)"><tspan x="-23.5" font-size="15.2" textLength="9.8" lengthAdjust="spacingAndGlyphs">7</tspan><tspan x="-13.5" font-size="13.5">月</tspan></text>
<text transform="translate(476.07 542.2) rotate(-90)"><tspan x="-77.1" font-size="15.2" textLength="39.2" lengthAdjust="spacingAndGlyphs">2024</tspan><tspan x="-37.3" font-size="13.5">年</tspan><tspan x="-23.5" font-size="15.2" textLength="9.8" lengthAdjust="spacingAndGlyphs">1</tspan><tspan x="-13.5" font-size="13.5">月</tspan></text>
<text transform="translate(497.74 542.2) rotate(-90)"><tspan x="-23.5" font-size="15.2" textLength="9.8" lengthAdjust="spacingAndGlyphs">7</tspan><tspan x="-13.5" font-size="13.5">月</tspan></text>
<text transform="translate(519.41 542.2) rotate(-90)"><tspan x="-77.1" font-size="15.2" textLength="39.2" lengthAdjust="spacingAndGlyphs">2025</tspan><tspan x="-37.3" font-size="13.5">年</tspan><tspan x="-23.5" font-size="15.2" textLength="9.8" lengthAdjust="spacingAndGlyphs">1</tspan><tspan x="-13.5" font-size="13.5">月</tspan></text>
<text transform="translate(541.08 542.2) rotate(-90)"><tspan x="-23.5" font-size="15.2" textLength="9.8" lengthAdjust="spacingAndGlyphs">7</tspan><tspan x="-13.5" font-size="13.5">月</tspan></text>
<text transform="translate(555.53 542.2) rotate(-90)"><tspan x="-32.1" font-size="15.2" textLength="18.4" lengthAdjust="spacingAndGlyphs">11</tspan><tspan x="-13.5" font-size="13.5">月</tspan></text>
</g>
</svg>
</body></html>
